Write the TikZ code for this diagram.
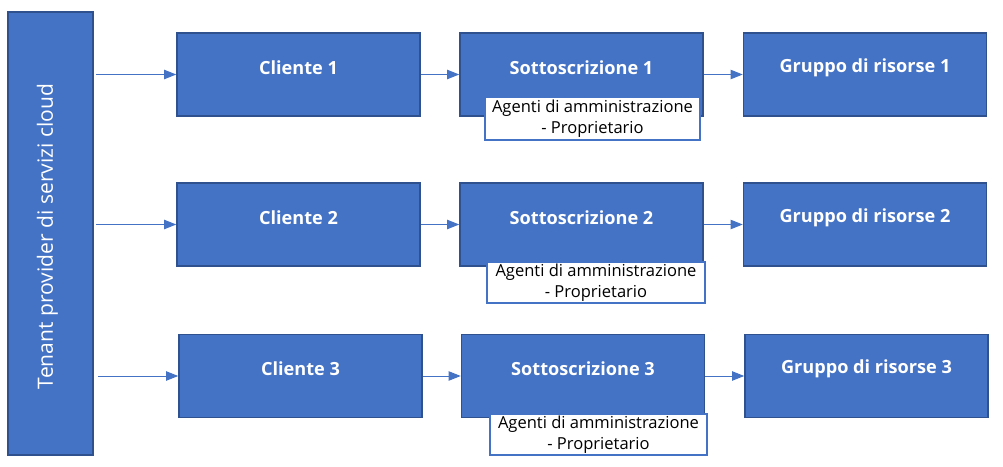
\documentclass[tikz,border=0pt]{standalone}
\usepackage{fontspec}
\setmainfont{Open Sans}
\usetikzlibrary{arrows.meta}
\definecolor{obl}{HTML}{4472C4}
\definecolor{obd}{HTML}{2F528F}
\begin{document}
\begin{tikzpicture}[x=0.75pt,y=-0.75pt,
  bx/.style={draw=obd,line width=1.2pt,fill=obl,minimum width=243*0.75pt,minimum height=83*0.75pt,inner sep=0pt},
  btext/.style={text=white,font=\fontsize{13.6}{16}\selectfont\bfseries,inner sep=0pt},
  lbl/.style={draw=obl,line width=0.8pt,fill=white,inner sep=0pt,align=center,font=\fontsize{12.4}{15.5}\selectfont,text=black},
  arr/.style={draw=obl,line width=0.75pt,-{Triangle[length=9pt,width=7pt]}}]
\useasboundingbox (0,0) rectangle (1003,467);
\node[bx,minimum width=85*0.75pt,minimum height=443*0.75pt] (t) at (50.5,233.5) {};
\node[text=white,rotate=90,font=\fontsize{15.8}{19}\selectfont,inner sep=0pt] (tt) at ([xshift=-3*0.75pt,yshift=-3*0.75pt]t.center) {Tenant provider di servizi cloud};
% row 1
\node[bx] (c1) at (298.5,74.5) {};
\node[bx] (s1) at (581.5,74.5) {};
\node[bx] (g1) at (865,74.5) {};
% row 2
\node[bx] (c2) at (298.5,224.5) {};
\node[bx] (s2) at (581.5,224.5) {};
\node[bx] (g2) at (865,224.5) {};
% row 3
\node[bx] (c3) at (300.5,376) {};
\node[bx] (s3) at (583,376) {};
\node[bx] (g3) at (866.5,376) {};
\foreach \n/\t in {c1/Cliente 1,s1/Sottoscrizione 1,g1/Gruppo di risorse 1,c2/Cliente 2,s2/Sottoscrizione 2,g2/Gruppo di risorse 2,c3/Cliente 3,s3/Sottoscrizione 3,g3/Gruppo di risorse 3}
  \node[btext] (\n t) at ([yshift=7*0.75pt]\n.center) {\t};
\node[lbl,minimum width=215*0.75pt,minimum height=43*0.75pt] (l1) at (592.5,118.5) {Agenti di amministrazione\\- Proprietario};
\node[lbl,minimum width=218*0.75pt,minimum height=41*0.75pt] (l2) at (596,282.5) {Agenti di amministrazione\\- Proprietario};
\node[lbl,minimum width=217*0.75pt,minimum height=41*0.75pt] (l3) at (598.5,434.5) {Agenti di amministrazione\\- Proprietario};
\coordinate (a1) at (96,74.5);
\coordinate (a2) at (96,224.5);
\coordinate (a3) at (98,376);
\foreach \i in {1,2,3}{
  \draw[arr] (a\i) -- (c\i.west);
  \draw[arr] (c\i.east) -- (s\i.west);
  \draw[arr] (s\i.east) -- (g\i.west);
}
\end{tikzpicture}
\end{document}
